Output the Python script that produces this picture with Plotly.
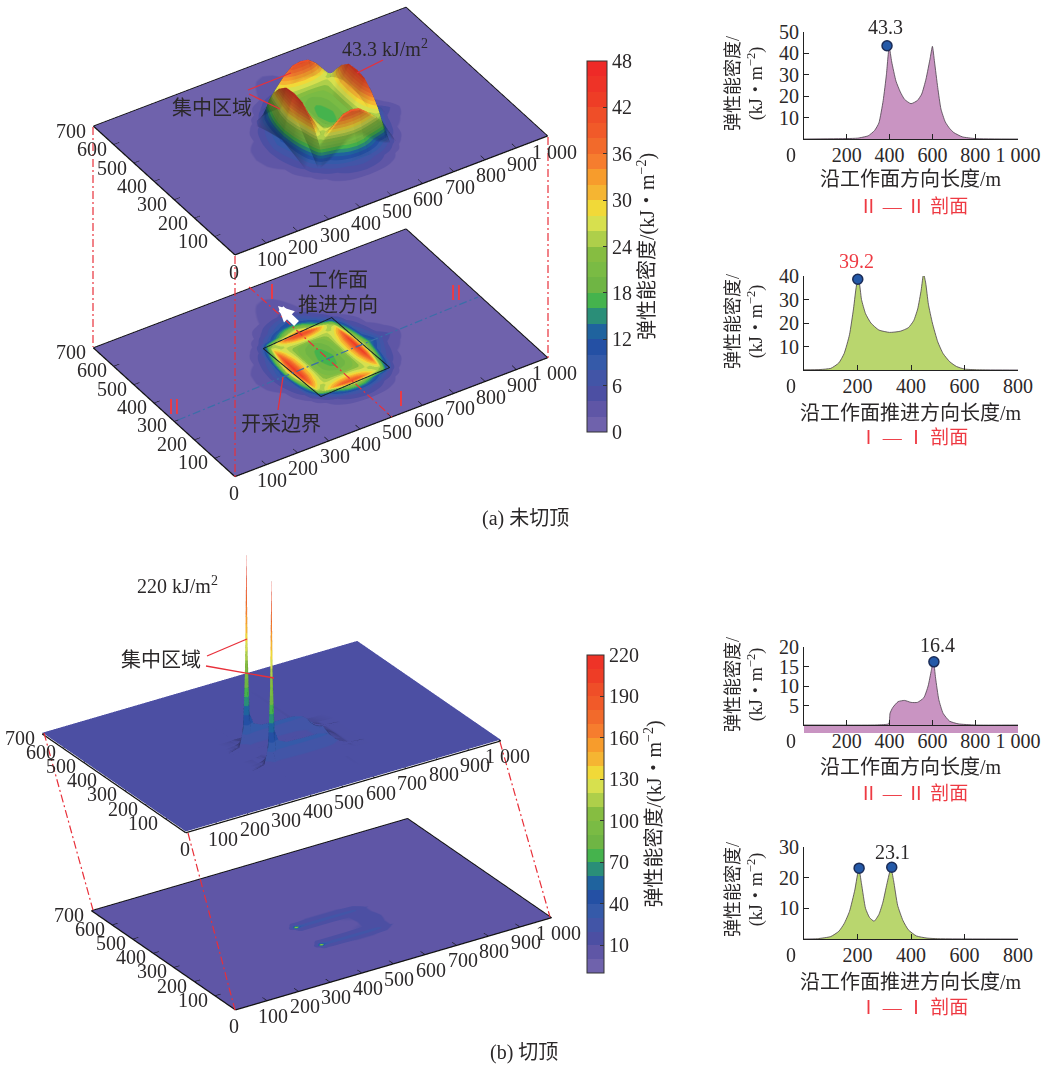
import plotly.graph_objects as go

W, H = 1044, 1068
SERIF = "Liberation Serif, Noto Sans CJK SC"
INK = "#2b2829"
RED = "#EE3A43"

band_colors = ["#6F62AC", "#5F56A6", "#4C4FA3", "#4255A7", "#355AA9", "#2450A4", "#1F639E", "#2A8E78",
               "#45B34D", "#6FB544", "#7ABB44", "#86BD41", "#AECF4A", "#D7E04E", "#F1D938", "#F5B532",
               "#F79C2C", "#F67D2E", "#F26A2B", "#F15A29", "#EF4E28", "#EE3D26", "#EE3327", "#EE2A27"]

# (a) elastic energy density on a grid
xs_a = [0, 250, 320, 360, 385, 400, 420, 450, 475, 500, 525, 550, 580, 600, 615, 640, 680, 750, 1000]
ys_a = [0, 100, 150, 180, 200, 220, 250, 285, 325, 365, 400, 430, 450, 470, 500, 550, 700]
z_a = [
 [0]*19,
 [0, 0, 0, 0, 0, .2, .3, .5, .6, .7, .6, .5, .3, .2, 0, 0, 0, 0, 0],
 [0, 0, 0, .5, 1.2, 2, 3, 5, 6.3, 7, 6.3, 5, 3, 2, 1.2, .5, 0, 0, 0],
 [0, 0, .2, 1.5, 4, 6, 9, 15, 20, 22, 20, 15, 9, 6, 4, 1.5, .2, 0, 0],
 [0, 0, .5, 2.5, 9, 20, 26, 33, 38, 39.2, 38, 33, 26, 20, 9, 2.5, .5, 0, 0],
 [0, 0, 1, 4, 14, 28, 24, 27, 29, 30, 29, 27, 24, 28, 14, 4, 1, 0, 0],
 [0, .1, 1.5, 6, 20, 36, 28, 22, 21, 20, 21, 22, 28, 36, 20, 6, 1.5, .1, 0],
 [0, .3, 2.5, 8, 28, 42, 31, 21, 18, 17, 18, 21, 31, 42, 26, 9, 2.5, .3, 0],
 [0, .4, 3, 10, 33, 43.3, 32, 21, 17.5, 16, 17.5, 21, 32, 43.3, 28, 14, 5, .6, 0],
 [0, .3, 2.5, 8, 28, 42, 31, 21, 18, 17, 18, 21, 31, 42, 26, 9, 2.5, .3, 0],
 [0, .1, 1.5, 6, 20, 36, 28, 22, 20, 19, 20, 22, 28, 36, 20, 6, 1.5, .1, 0],
 [0, 0, 1, 4, 14, 28, 24, 27, 29, 30, 29, 27, 24, 28, 14, 4, 1, 0, 0],
 [0, 0, .5, 2.5, 9, 20, 26, 35, 40, 41, 40, 35, 26, 20, 9, 2.5, .5, 0, 0],
 [0, 0, .2, 1.5, 4, 6.5, 10, 17, 24, 28, 24, 17, 10, 6.5, 4, 1.5, .2, 0, 0],
 [0, 0, 0, .7, 1.5, 3, 4.5, 8, 10.5, 12, 10.5, 8, 4.5, 3, 1.5, .7, 0, 0, 0],
 [0, 0, 0, 0, .3, .6, 1, 2, 3, 3.5, 3, 2, 1, .6, .3, 0, 0, 0, 0],
 [0]*19,
]
z_a_colour = [[v + 0.6 for v in row] for row in z_a]

# (b) grid
xs_b = [0, 340, 380, 392, 398, 402, 406, 412, 425, 450, 500, 550, 580, 595, 605, 620, 650, 700, 1000]
ys_b = [0, 140, 175, 190, 196, 200, 204, 212, 230, 262, 295, 312, 318, 322, 326, 334, 350, 385, 700]
z_b = [
 [2]*19,
 [2, 2, 2, 2, 2.5, 2.5, 2.5, 2.5, 2.5, 3, 3, 3, 3, 3, 2.5, 2.5, 2, 2, 2],
 [2, 2, 3, 4, 5, 5, 5, 5, 6, 6, 7, 7, 6, 6, 5, 4, 3, 2, 2],
 [2, 2, 4, 8, 14, 18, 15, 13, 12, 13, 14, 13, 12, 10, 8, 6, 3, 2, 2],
 [2, 2, 5, 16, 45, 80, 50, 25, 20, 20, 21, 20, 18, 14, 10, 7, 3, 2, 2],
 [2, 2, 6, 25, 90, 210, 100, 40, 28, 24, 23.1, 23, 20, 16, 12, 8, 4, 2, 2],
 [2, 2, 5, 16, 45, 80, 50, 28, 22, 21, 20, 19, 18, 15, 11, 7, 3, 2, 2],
 [2, 2, 4, 8, 12, 15, 14, 13, 12, 12, 12, 12, 14, 14, 11, 7, 3, 2, 2],
 [2, 2, 3, 4, 5, 6, 6, 6, 6, 6, 6, 7, 10, 14, 12, 7, 3, 2, 2],
 [2, 2, 2, 3, 3, 3.5, 4, 4.5, 5.8, 6, 5.8, 6, 10, 14, 16.4, 9, 3, 2, 2],
 [2, 2, 3, 4, 5, 6, 6, 6, 6, 6, 6, 7, 10, 14, 12, 7, 3, 2, 2],
 [2, 2, 4, 7, 11, 14, 14, 13, 12, 12, 12, 12, 14, 14, 11, 7, 3, 2, 2],
 [2, 2, 5, 16, 45, 80, 50, 28, 22, 21, 20, 19, 18, 15, 11, 7, 3, 2, 2],
 [2, 2, 6, 25, 95, 220, 105, 40, 28, 24, 23.1, 23, 20, 16, 12, 8, 4, 2, 2],
 [2, 2, 5, 16, 45, 80, 50, 28, 22, 21, 20, 19, 18, 15, 11, 7, 3, 2, 2],
 [2, 2, 4, 8, 14, 18, 15, 13, 12, 13, 14, 13, 12, 10, 8, 6, 3, 2, 2],
 [2, 2, 3, 4, 5, 6, 6, 6, 6, 7, 7, 7, 6, 6, 5, 4, 3, 2, 2],
 [2, 2, 2, 2, 2.5, 2.5, 2.5, 2.5, 2.5, 3, 3, 3, 3, 3, 2.5, 2.5, 2, 2, 2],
 [2]*19,
]
z_b_flat = [[min(v, 110) + 3 for v in row] for row in z_b]
z_b_colour = [[v + 10 for v in row] for row in z_b]

# Mining boundary corners (a)
bound_x = [392, 619, 612, 381, 392]
bound_y = [181, 192, 468, 449, 181]

# Section profiles
p1_x = [0, 200, 250, 300, 330, 350, 370, 385, 398, 410, 430, 450, 470, 500, 530, 550, 570, 590, 600, 610, 625, 640, 660, 680, 700, 740, 800, 1000]
p1_y = [0, 0.2, 0.4, 1.5, 4, 7.5, 18, 30, 43, 36, 27, 22, 18.5, 16.5, 18, 21, 28, 38, 43.3, 36, 24, 14, 8, 5, 3, 1, 0.2, 0]
p2_x = [0, 60, 100, 130, 150, 170, 185, 198, 205, 215, 230, 250, 280, 320, 360, 390, 410, 425, 438, 447, 455, 465, 480, 500, 520, 545, 570, 600, 650, 800]
p2_y = [0.1, 0.2, 0.7, 3, 7, 15, 26, 37, 38, 30, 24, 20, 17, 16, 16.5, 18, 21, 26, 34, 41, 37, 28, 20, 12, 7, 3.5, 1.5, 0.4, 0.1, 0]
p3_x = [0, 330, 390, 398, 402, 415, 440, 470, 500, 530, 560, 580, 595, 605, 615, 630, 650, 680, 720, 800, 1000]
p3_y = [0, 0, 0.2, 0.5, 3, 4.5, 6, 6.3, 5.8, 5.8, 7, 10, 14, 16.4, 12, 6.5, 3, 1, 0.3, 0, 0]
p4_x = [0, 50, 100, 130, 150, 170, 190, 205, 215, 230, 245, 262, 280, 295, 310, 325, 335, 350, 370, 390, 420, 460, 500, 800]
p4_y = [0, 0.1, 0.8, 2.5, 5, 9, 16, 23, 18, 10, 7, 5.8, 8, 12, 18, 23.1, 19, 11, 6, 3, 1, 0.3, 0.1, 0]

x_ticks = [100, 200, 300, 400, 500, 600, 700, 800, 900, 1000]
y_ticks = [100, 200, 300, 400, 500, 600, 700]


def stepped(colors):
    n = len(colors)
    out = []
    for i, c in enumerate(colors):
        out += [[i / n, c], [(i + 1) / n, c]]
    return out


def px_x(v):
    return v / W


def px_y(v):
    return 1 - v / H


def plate_decor(scene, z0):
    fig.add_trace(go.Scatter3d(scene=scene, mode="lines", hoverinfo="skip", showlegend=False,
                               x=[0, 1000, 1000, 0, 0], y=[0, 0, 700, 700, 0], z=[z0] * 5,
                               line=dict(color="#111111", width=2.5)))
    tx, ty, tz = [], [], []
    for t in x_ticks[:-1]:
        tx += [t, t, None]; ty += [0, 22, None]; tz += [z0, z0, None]
    for t in y_ticks[:-1]:
        tx += [0, 18, None]; ty += [t, t, None]; tz += [z0, z0, None]
    fig.add_trace(go.Scatter3d(scene=scene, mode="lines", hoverinfo="skip", showlegend=False,
                               x=tx, y=ty, z=tz, line=dict(color="#111111", width=1.2)))


def tick_annots(z0):
    f = dict(family=SERIF, size=20, color=INK)
    out = [dict(x=0, y=0, z=z0, text="0", showarrow=False, font=f, xshift=-1, yshift=-16)]
    for t in x_ticks:
        label = "1 000" if t == 1000 else str(t)
        out.append(dict(x=t, y=0, z=z0, text=label, showarrow=False, font=f,
                        xshift=7 if t == 1000 else 6, yshift=-15))
    for t in y_ticks:
        out.append(dict(x=0, y=t, z=z0, text=str(t), showarrow=False, font=f, xshift=-22, yshift=-4))
    return out


def scene_layout(dom, dirn, xasp, zr, zasp, annots):
    x0, x1, y0, y1 = dom
    norm = 8
    return dict(
        domain=dict(x=[px_x(x0), px_x(x1)], y=[px_y(y1), px_y(y0)]),
        bgcolor="rgba(0,0,0,0)",
        aspectmode="manual",
        aspectratio=dict(x=xasp, y=0.7 * xasp, z=zasp),
        xaxis=dict(visible=False, range=[0, 1000]),
        yaxis=dict(visible=False, range=[0, 700]),
        zaxis=dict(visible=False, range=zr),
        camera=dict(projection=dict(type="orthographic"),
                    up=dict(x=0, y=0, z=1),
                    center=dict(x=0, y=0, z=-zasp / 2),
                    eye=dict(x=dirn[0] * norm, y=dirn[1] * norm, z=dirn[2] * norm - zasp / 2)),
        annotations=annots,
    )


fig = go.Figure()
scale_a = stepped(band_colors)
scale_b = stepped(band_colors[:23])
light_a = dict(ambient=0.36, diffuse=0.9, specular=0, roughness=0.8, fresnel=0)
light_b = dict(ambient=0.53, diffuse=0.9, specular=0, roughness=0.8, fresnel=0)
light_pos = dict(x=10000, y=-10000, z=-90000)
light_flat = dict(ambient=1, diffuse=0, specular=0, fresnel=0)

# (a) upper 3D surface
fig.add_trace(go.Surface(scene="scene", x=xs_a, y=ys_a, z=z_a_colour, surfacecolor=z_a_colour, colorscale=scale_a, cmin=0, cmax=48,
                         showscale=True, lighting=light_a, lightposition=light_pos, hoverinfo="skip",
                         colorbar=dict(x=px_x(587), xanchor="left", y=px_y(246.5), yanchor="middle",
                                       lenmode="pixels", len=371, thickness=20, xpad=0, ypad=0,
                                       outlinecolor="#333333", outlinewidth=1,
                                       tickvals=[0, 6, 12, 18, 24, 30, 36, 42, 48], ticks="inside", ticklen=4,
                                       tickcolor="#333333", tickfont=dict(family=SERIF, size=20, color=INK),
                                       title=dict(text="弹性能密度/(kJ・m<sup>−2</sup>)", side="right",
                                                  font=dict(family=SERIF, size=20, color=INK)))))
plate_decor("scene", 0.7)

# (a) lower contour map
fig.add_trace(go.Surface(scene="scene2", x=xs_a, y=ys_a, z=[[0] * len(xs_a) for _ in ys_a], surfacecolor=z_a_colour,
                         colorscale=scale_a, cmin=0, cmax=48, showscale=False, lighting=light_flat, hoverinfo="skip"))
plate_decor("scene2", 0.15)
fig.add_trace(go.Scatter3d(scene="scene2", mode="lines", hoverinfo="skip", showlegend=False, x=bound_x, y=bound_y,
                           z=[0.3] * len(bound_x), line=dict(color="#14212B", width=2)))

# (b) upper 3D surface
fig.add_trace(go.Surface(scene="scene3", x=xs_b, y=ys_b, z=z_b, surfacecolor=z_b_colour, colorscale=scale_b, cmin=-10, cmax=220,
                         showscale=True, lighting=light_b, lightposition=light_pos, hoverinfo="skip",
                         colorbar=dict(x=px_x(587), xanchor="left", y=px_y(814), yanchor="middle",
                                       lenmode="pixels", len=318, thickness=17, xpad=0, ypad=0,
                                       outlinecolor="#333333", outlinewidth=1,
                                       tickvals=[10, 40, 70, 100, 130, 160, 190, 220], ticks="inside", ticklen=4,
                                       tickcolor="#333333", tickfont=dict(family=SERIF, size=20, color=INK),
                                       title=dict(text="弹性能密度/(kJ・m<sup>−2</sup>)", side="right",
                                                  font=dict(family=SERIF, size=20, color=INK)))))
plate_decor("scene3", 0.6)

# (b) lower contour map
fig.add_trace(go.Surface(scene="scene4", x=xs_b, y=ys_b, z=[[0] * len(xs_b) for _ in ys_b], surfacecolor=z_b_flat,
                         colorscale=scale_b, cmin=-10, cmax=220, showscale=False, lighting=light_flat, hoverinfo="skip"))
plate_decor("scene4", 0.6)

DIR_A = (-0.439, -0.679, 0.588)
DIR_B = (-0.488, -0.750, 0.4486)
fig.update_layout(
    scene=scene_layout((0, 641, 0, 264), DIR_A, 2.82, [0, 48], 0.566, tick_annots(0.15)),
    scene2=scene_layout((0, 641, 220, 486), DIR_A, 2.80, [0, 48], 0.566, tick_annots(0.15)),
    scene3=scene_layout((0, 543, 552, 924), DIR_B, 2.02, [0, 220], 1.21, tick_annots(0.6)),
    scene4=scene_layout((0, 643, 815, 1014), DIR_B, 3.79, [0, 220], 1.0, tick_annots(0.6)),
)

# Section charts
panels = [
    ("", p1_x, p1_y, "#C994C2", 32, 139, [0, 1000], [200, 400, 600, 800, 1000], [0, 50], [10, 20, 30, 40, 50], [388], [43.6]),
    ("2", p2_x, p2_y, "#B9D66E", 276, 370, [0, 800], [200, 400, 600, 800], [0, 40], [10, 20, 30, 40], [201, 444], [38.6, 41.4]),
    ("3", p3_x, p3_y, "#C994C2", 647, 725, [0, 1000], [200, 400, 600, 800, 1000], [0, 20], [5, 10, 15, 20], [607], [16.2]),
    ("4", p4_x, p4_y, "#B9D66E", 847, 939, [0, 800], [200, 400, 600, 800], [0, 30], [10, 20, 30], [206, 328], [23.1, 23.4]),
]
for sfx, px, py, col, top, bot, xr, xt, yr, yt, dx, dy in panels:
    fig.add_trace(go.Scatter(x=px, y=py, xaxis="x" + sfx, yaxis="y" + sfx, mode="lines", fill="tozeroy",
                             fillcolor=col, line=dict(color="#4a3f4a", width=0.8, shape="spline", smoothing=0.5),
                             hoverinfo="skip", showlegend=False))
    fig.add_trace(go.Scatter(x=dx, y=dy, xaxis="x" + sfx, yaxis="y" + sfx, mode="markers", cliponaxis=False,
                             marker=dict(size=10, color="#2459A8", line=dict(color="#1B2C57", width=1.5)),
                             hoverinfo="skip", showlegend=False))
    tf = dict(family=SERIF, size=20, color=INK)
    ax = dict(showgrid=False, zeroline=False, showline=True, linecolor="#222222", linewidth=1.2,
              ticks="inside", ticklen=5, tickcolor="#222222", tickfont=tf)
    fig.update_layout({
        "xaxis" + sfx: dict(ax, domain=[px_x(804), px_x(1018)], range=xr, tickvals=xt,
                            ticktext=["1 000" if t == 1000 else str(t) for t in xt],
                            anchor="y" + sfx, ticklabelstandoff=-2),
        "yaxis" + sfx: dict(ax, domain=[px_y(bot), px_y(top)], range=yr, tickvals=yt, anchor="x" + sfx),
    })

annots = []


def note(text, x, y, size=20, color=INK, angle=0):
    annots.append(dict(text=text, x=px_x(x), y=px_y(y), xref="paper", yref="paper", showarrow=False,
                       xanchor="center", yanchor="middle", textangle=angle,
                       font=dict(family=SERIF, size=size, color=color)))


YT = "弹性能密度/<br>(kJ・m<sup>−2</sup>)"
for cy in [84, 322, 685, 890]:
    note(YT, 745, cy, 18, INK, -90)
for ty, ly, cy, title, cap, zy in [
    (155, 179, 207, "沿工作面方向长度/m", "Ⅱ — Ⅱ 剖面", 155),
    (386, 413, 437, "沿工作面推进方向长度/m", "Ⅰ — Ⅰ 剖面", 386),
    (741, 767, 793, "沿工作面方向长度/m", "Ⅱ — Ⅱ 剖面", 741),
    (955, 982, 1007, "沿工作面推进方向长度/m", "Ⅰ — Ⅰ 剖面", 955),
]:
    note("0", 791, zy)
    note(title, 911, ly)
    note(cap, 913, cy, 19, RED)
note("43.3", 885, 27)
note("39.2", 856, 261, 20, RED)
note("16.4", 937, 645)
note("23.1", 892, 852)
note("(a) 未切顶", 525, 518)
note("(b) 切顶", 524, 1052)
note("集中区域", 212, 108)
note("43.3 kJ/m<sup>2</sup>", 385, 48)
note("工作面", 338, 280)
note("推进方向", 338, 305)
note("开采边界", 281, 424)
note("Ⅰ", 272, 292, 20, RED)
note("Ⅰ", 401, 399, 20, RED)
note("Ⅱ", 456, 293, 20, RED)
note("Ⅱ", 174, 407, 20, RED)
note("220 kJ/m<sup>2</sup>", 177, 585)
note("集中区域", 161, 660)
annots.append(dict(x=px_x(278), y=px_y(306), xref="paper", yref="paper", text="", showarrow=True,
                   ax=20, ay=19, axref="pixel", ayref="pixel", arrowcolor="white", arrowwidth=7, arrowhead=2, arrowsize=0.45))

shapes = []


def seg(x0, y0, x1, y1, color="#E8303A", dash="solid", width=1.2):
    shapes.append(dict(type="line", xref="paper", yref="paper", layer="above",
                       x0=px_x(x0), y0=px_y(y0), x1=px_x(x1), y1=px_y(y1),
                       line=dict(color=color, width=width, dash=dash)))


DD = "8px,3px,2px,3px"
for a in [(93, 127, 93, 347), (235, 256, 235, 477), (548, 137, 548, 358),
          (44, 733, 93, 910), (188, 833, 235, 1010), (500, 742, 550, 917),
          (249, 287, 392, 417)]:
    seg(*a, dash=DD)
seg(178, 420, 478, 297, color="#3B6EA8", dash=DD)
for a in [(248, 90, 291, 73), (249, 94, 280, 109), (383, 60, 357, 73), (283, 377, 278, 410),
          (207, 656, 247, 639), (206, 666, 274, 678)]:
    seg(*a, width=1.3)
shapes.append(dict(type="rect", xref="x3", yref="paper", x0=0, x1=1000, y0=px_y(733), y1=px_y(726),
                   fillcolor="#C994C2", line=dict(width=0), layer="above"))

fig.update_layout(width=W, height=H, margin=dict(l=0, r=0, t=0, b=0, pad=0, autoexpand=False), paper_bgcolor="white",
                  plot_bgcolor="white", showlegend=False, annotations=annots, shapes=shapes,
                  font=dict(family=SERIF, color=INK))

fig.write_html("out.html", config={"displayModeBar": False},
               post_script="document.body.style.margin='0';document.documentElement.style.overflow='hidden';")
